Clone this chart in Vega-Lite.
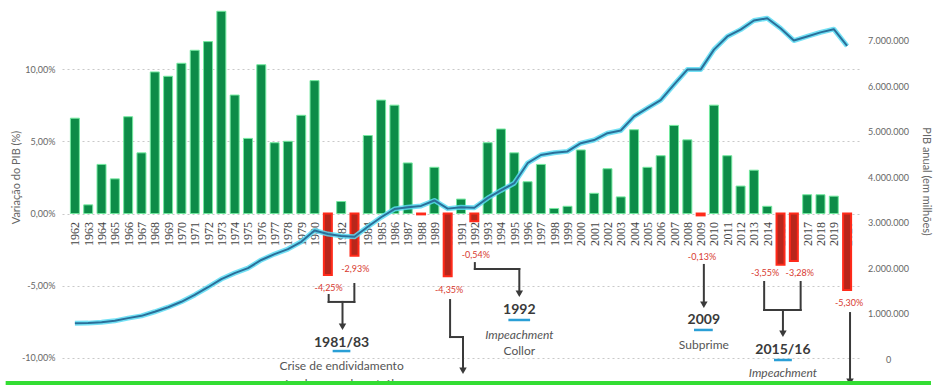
{
  "$schema": "https://vega.github.io/schema/vega-lite/v6.json",
  "width": 798,
  "height": 385,
  "autosize": {"type": "none"},
  "padding": {"left": 62, "top": 0, "right": 76, "bottom": 0},
  "background": "white",
  "config": {"view": {"stroke": null}, "font": "Lato", "axisX": {"labelOverlap": false, "labelFlush": false, "labelBound": false, "grid": false, "ticks": false, "domain": false}},
  "datasets": {
    "main": [
      {"year": 1962, "growth": 6.6, "pib": 786000},
      {"year": 1963, "growth": 0.6, "pib": 790000},
      {"year": 1964, "growth": 3.4, "pib": 810000},
      {"year": 1965, "growth": 2.4, "pib": 840000},
      {"year": 1966, "growth": 6.7, "pib": 900000},
      {"year": 1967, "growth": 4.2, "pib": 950000},
      {"year": 1968, "growth": 9.8, "pib": 1040000},
      {"year": 1969, "growth": 9.5, "pib": 1140000},
      {"year": 1970, "growth": 10.4, "pib": 1260000},
      {"year": 1971, "growth": 11.3, "pib": 1410000},
      {"year": 1972, "growth": 11.9, "pib": 1580000},
      {"year": 1973, "growth": 14.0, "pib": 1760000},
      {"year": 1974, "growth": 8.2, "pib": 1890000},
      {"year": 1975, "growth": 5.2, "pib": 2000000},
      {"year": 1976, "growth": 10.3, "pib": 2180000},
      {"year": 1977, "growth": 4.9, "pib": 2310000},
      {"year": 1978, "growth": 5.0, "pib": 2420000},
      {"year": 1979, "growth": 6.8, "pib": 2580000},
      {"year": 1980, "growth": 9.2, "pib": 2830000},
      {"year": 1981, "growth": -4.25, "pib": 2750000},
      {"year": 1982, "growth": 0.83, "pib": 2710000},
      {"year": 1983, "growth": -2.93, "pib": 2690000},
      {"year": 1984, "growth": 5.4, "pib": 2910000},
      {"year": 1985, "growth": 7.85, "pib": 3120000},
      {"year": 1986, "growth": 7.5, "pib": 3300000},
      {"year": 1987, "growth": 3.5, "pib": 3340000},
      {"year": 1988, "growth": -0.06, "pib": 3370000},
      {"year": 1989, "growth": 3.2, "pib": 3490000},
      {"year": 1990, "growth": -4.35, "pib": 3310000},
      {"year": 1991, "growth": 1.0, "pib": 3340000},
      {"year": 1992, "growth": -0.54, "pib": 3330000},
      {"year": 1993, "growth": 4.9, "pib": 3540000},
      {"year": 1994, "growth": 5.85, "pib": 3710000},
      {"year": 1995, "growth": 4.2, "pib": 3870000},
      {"year": 1996, "growth": 2.2, "pib": 4310000},
      {"year": 1997, "growth": 3.4, "pib": 4490000},
      {"year": 1998, "growth": 0.35, "pib": 4540000},
      {"year": 1999, "growth": 0.5, "pib": 4570000},
      {"year": 2000, "growth": 4.4, "pib": 4750000},
      {"year": 2001, "growth": 1.4, "pib": 4820000},
      {"year": 2002, "growth": 3.1, "pib": 4970000},
      {"year": 2003, "growth": 1.15, "pib": 5030000},
      {"year": 2004, "growth": 5.8, "pib": 5340000},
      {"year": 2005, "growth": 3.2, "pib": 5520000},
      {"year": 2006, "growth": 4.0, "pib": 5700000},
      {"year": 2007, "growth": 6.1, "pib": 6040000},
      {"year": 2008, "growth": 5.1, "pib": 6370000},
      {"year": 2009, "growth": -0.13, "pib": 6370000},
      {"year": 2010, "growth": 7.5, "pib": 6810000},
      {"year": 2011, "growth": 4.0, "pib": 7100000},
      {"year": 2012, "growth": 1.9, "pib": 7250000},
      {"year": 2013, "growth": 3.0, "pib": 7450000},
      {"year": 2014, "growth": 0.5, "pib": 7500000},
      {"year": 2015, "growth": -3.55, "pib": 7280000},
      {"year": 2016, "growth": -3.28, "pib": 7010000},
      {"year": 2017, "growth": 1.3, "pib": 7100000},
      {"year": 2018, "growth": 1.3, "pib": 7190000},
      {"year": 2019, "growth": 1.2, "pib": 7260000},
      {"year": 2020, "growth": -5.3, "pib": 6890000}
    ],
    "callouts": [
      {"year": 1981.06, "value": -5.16, "label": "-4,25%"},
      {"year": 1983.06, "value": -3.84, "label": "-2,93%"},
      {"year": 1990.11, "value": -5.29, "label": "-4,35%"},
      {"year": 1992.11, "value": -2.87, "label": "-0,54%"},
      {"year": 2009.10, "value": -3.01, "label": "-0,13%"},
      {"year": 2013.84, "value": -4.12, "label": "-3,55%"},
      {"year": 2016.44, "value": -4.12, "label": "-3,28%"},
      {"year": 2020.15, "value": -6.19, "label": "-5,30%"}
    ],
    "links": [
      {"year": 1981.06, "value": -5.64, "year2": 1981.06, "value2": -6.12},
      {"year": 1981.06, "value": -6.12, "year2": 1982.99, "value2": -6.12},
      {"year": 1982.99, "value": -4.88, "year2": 1982.99, "value2": -6.12},
      {"year": 1982.10, "value": -6.12, "year2": 1982.10, "value2": -7.83},
      {"year": 1990.18, "value": -5.99, "year2": 1990.18, "value2": -8.55},
      {"year": 1990.18, "value": -8.55, "year2": 1991.15, "value2": -8.55},
      {"year": 1991.15, "value": -8.55, "year2": 1991.15, "value2": -10.89},
      {"year": 1992.04, "value": -3.43, "year2": 1992.04, "value2": -3.84},
      {"year": 1992.04, "value": -3.84, "year2": 1995.38, "value2": -3.84},
      {"year": 1995.38, "value": -3.84, "year2": 1995.38, "value2": -5.56},
      {"year": 2009.24, "value": -3.56, "year2": 2009.24, "value2": -6.32},
      {"year": 2013.77, "value": -4.74, "year2": 2013.77, "value2": -6.68},
      {"year": 2016.51, "value": -4.74, "year2": 2016.51, "value2": -6.68},
      {"year": 2013.77, "value": -6.68, "year2": 2016.51, "value2": -6.68},
      {"year": 2015.18, "value": -6.68, "year2": 2015.18, "value2": -8.33},
      {"year": 2020.22, "value": -6.89, "year2": 2020.22, "value2": -11.65}
    ],
    "heads": [
      {"year": 1982.10, "value": -7.83},
      {"year": 1991.15, "value": -10.89},
      {"year": 1995.38, "value": -5.56},
      {"year": 2009.24, "value": -6.32},
      {"year": 2015.18, "value": -8.33},
      {"year": 2020.22, "value": -11.65}
    ],
    "notes": [
      {"year": 1982.03, "value": -8.93, "text": "1981/83", "role": "period"},
      {"year": 1982.03, "value": -10.55, "text": "Crise de endividamento", "role": "desc"},
      {"year": 1982.03, "value": -11.80, "text": "pós-choques do petróleo", "role": "desc"},
      {"year": 1991.22, "value": -12.01, "text": "1990", "role": "period"},
      {"year": 1995.38, "value": -6.68, "text": "1992", "role": "period"},
      {"year": 1995.38, "value": -8.41, "text": "Impeachment", "role": "event"},
      {"year": 1995.38, "value": -9.52, "text": "Collor", "role": "desc"},
      {"year": 2009.24, "value": -7.40, "text": "2009", "role": "period"},
      {"year": 2009.24, "value": -9.07, "text": "Subprime", "role": "desc"},
      {"year": 2015.18, "value": -9.48, "text": "2015/16", "role": "period"},
      {"year": 2015.18, "value": -11.07, "text": "Impeachment", "role": "event"}
    ],
    "underlines": [
      {"year": 1981.36, "year2": 1982.69, "value": -9.52},
      {"year": 1994.56, "year2": 1996.19, "value": -7.37},
      {"year": 2008.50, "year2": 2009.91, "value": -8.06},
      {"year": 2014.51, "year2": 2015.85, "value": -10.14}
    ],
    "frame": [
      {"year": 1956.8, "year2": 2026.3, "value": -11.73}
    ]
  },
  "encoding": {
    "x": {"field": "year", "type": "quantitative", "scale": {"domain": [1961.407, 2020.593], "nice": false, "zero": false},
      "axis": {"orient": "bottom", "offset": -171.5, "values": [1962,1963,1964,1965,1966,1967,1968,1969,1970,1971,1972,1973,1974,1975,1976,1977,1978,1979,1980,1981,1982,1983,1984,1985,1986,1987,1988,1989,1990,1991,1992,1993,1994,1995,1996,1997,1998,1999,2000,2001,2002,2003,2004,2005,2006,2007,2008,2009,2010,2011,2012,2013,2014,2015,2016,2017,2018,2019,2020],
        "format": "d", "labelAngle": 270, "labelAlign": "right", "labelBaseline": "middle", "labelPadding": 8,
        "labelFont": "Liberation Serif", "labelFontSize": 12, "labelColor": "#444", "labelOverlap": false, "labelFlush": false, "labelBound": false, "labelSeparation": 0,
        "tickCount": 60, "ticks": false, "domain": false, "grid": false, "title": null, "zindex": 0}}
  },
  "layer": [
    {
      "layer": [
        {
          "data": {"name": "main"},
          "transform": [{"filter": "datum.growth >= 0"}],
          "mark": {"type": "bar", "width": 9, "fill": "#0d8c48", "stroke": "#74eaa0", "strokeWidth": 1},
          "encoding": {
            "y": {"field": "growth", "type": "quantitative", "scale": {"domain": [-11.87, 14.78], "nice": false, "zero": false},
              "axis": {"orient": "left", "values": [-10, -5, 0, 5, 10],
                "labelExpr": "replace(replace(format(datum.value, '.2f'), '.', ','), '\u2212', '-') + '%'",
                "labelFont": "Lato", "labelFontSize": 9, "labelColor": "#666", "labelPadding": 7,
                "ticks": false, "domain": false, "grid": true, "gridDash": [2, 3], "gridColor": "#c9c9c9",
                "title": "Variação do PIB (%)", "titleFont": "Lato", "titleFontSize": 11, "titleFontWeight": "normal", "titleColor": "#666",
                "titleX": -46, "titleY": 177, "titleAngle": 270, "titleAlign": "center", "titleBaseline": "middle", "zindex": 0}},
            "y2": {"datum": 0}
          }
        },
        {
          "data": {"name": "main"},
          "transform": [{"filter": "datum.growth < 0"}],
          "mark": {"type": "bar", "width": 8, "fill": "#b8261b", "stroke": "#ff2a1a", "strokeWidth": 2},
          "encoding": {
            "y": {"field": "growth", "type": "quantitative"},
            "y2": {"datum": 0}
          }
        },
        {
          "data": {"name": "callouts"},
          "mark": {"type": "text", "font": "Lato", "fontSize": 9, "fill": "#d83a30", "align": "center", "baseline": "middle"},
          "encoding": {
            "y": {"field": "value", "type": "quantitative"},
            "text": {"field": "label"}
          }
        },
        {
          "data": {"name": "links"},
          "mark": {"type": "rule", "stroke": "#3a3a3a", "strokeWidth": 2, "strokeCap": "square"},
          "encoding": {
            "x2": {"field": "year2"},
            "y": {"field": "value", "type": "quantitative"},
            "y2": {"field": "value2"}
          }
        },
        {
          "data": {"name": "heads"},
          "mark": {"type": "point", "shape": "triangle-down", "filled": true, "size": 56, "fill": "#3a3a3a", "opacity": 1, "strokeWidth": 0},
          "encoding": {
            "y": {"field": "value", "type": "quantitative"}
          }
        },
        {
          "data": {"name": "underlines"},
          "mark": {"type": "rule", "stroke": "#2a9fd6", "strokeWidth": 2.5},
          "encoding": {
            "x2": {"field": "year2"},
            "y": {"field": "value", "type": "quantitative"}
          }
        },
        {
          "data": {"name": "notes"},
          "transform": [{"filter": "datum.role === 'period'"}],
          "mark": {"type": "text", "font": "Lato", "fontSize": 14, "fontWeight": "bold", "fill": "#3a3a3a", "align": "center", "baseline": "middle"},
          "encoding": {
            "y": {"field": "value", "type": "quantitative"},
            "text": {"field": "text"}
          }
        },
        {
          "data": {"name": "notes"},
          "transform": [{"filter": "datum.role === 'desc'"}],
          "mark": {"type": "text", "font": "Lato", "fontSize": 12, "fill": "#555", "align": "center", "baseline": "middle"},
          "encoding": {
            "y": {"field": "value", "type": "quantitative"},
            "text": {"field": "text"}
          }
        },
        {
          "data": {"name": "notes"},
          "transform": [{"filter": "datum.role === 'event'"}],
          "mark": {"type": "text", "font": "Lato", "fontSize": 12, "fontStyle": "italic", "fill": "#555", "align": "center", "baseline": "middle"},
          "encoding": {
            "y": {"field": "value", "type": "quantitative"},
            "text": {"field": "text"}
          }
        },
        {
          "data": {"name": "frame"},
          "mark": {"type": "rule", "stroke": "#33dd33", "strokeWidth": 4},
          "encoding": {
            "x2": {"field": "year2"},
            "y": {"field": "value", "type": "quantitative"}
          }
        }
      ]
    },
    {
      "data": {"name": "main"},
      "layer": [
        {
          "mark": {"type": "line", "stroke": "#5adcf3", "strokeWidth": 5, "opacity": 0.85, "strokeJoin": "round"},
          "encoding": {
            "y": {"field": "pib", "type": "quantitative", "scale": {"domain": [-572000, 7902000], "nice": false, "zero": false},
              "axis": {"orient": "right", "values": [0, 1000000, 2000000, 3000000, 4000000, 5000000, 6000000, 7000000],
                "labelExpr": "replace(format(datum.value, ',.0f'), regexp(',', 'g'), '.')",
                "labelFont": "Lato", "labelFontSize": 9, "labelColor": "#666", "labelAlign": "center", "labelPadding": 28,
                "ticks": false, "domain": false, "grid": false,
                "title": "PIB anual (em milhões)", "titleFont": "Lato", "titleFontSize": 11, "titleFontWeight": "normal", "titleColor": "#666",
                "titleX": 65, "titleY": 181, "titleAngle": 90, "titleAlign": "center", "titleBaseline": "middle", "zindex": 0}}
          }
        },
        {
          "mark": {"type": "line", "stroke": "#2a6f9a", "strokeWidth": 2, "strokeJoin": "round"},
          "encoding": {
            "y": {"field": "pib", "type": "quantitative"}
          }
        }
      ]
    }
  ],
  "resolve": {"scale": {"y": "independent"}, "axis": {"y": "independent"}}
}
